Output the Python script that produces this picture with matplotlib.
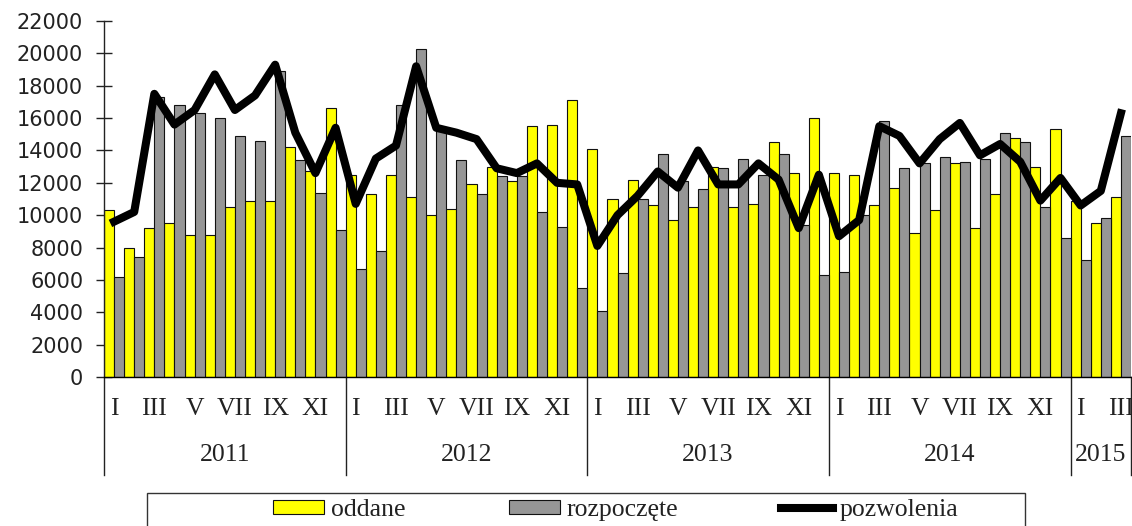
import matplotlib
matplotlib.use("Agg")
import matplotlib.pyplot as plt
import matplotlib.transforms as mtransforms
from matplotlib.patches import Rectangle
import numpy as np

# monthly data, Jan 2011 - Mar 2015
oddane = [10300, 8000, 9200, 9500, 8800, 8800, 10500, 10900, 10900, 14200, 12700, 16600,
          12500, 11300, 12500, 11100, 10000, 10400, 11900, 13000, 12100, 15500, 15600, 17100,
          14100, 11000, 12200, 10600, 9700, 10500, 13000, 10500, 10700, 14500, 12600, 16000,
          12600, 12500, 10600, 11700, 8900, 10300, 13200, 9200, 11300, 14800, 13000, 15300,
          10900, 9500, 11100]
rozpoczete = [6200, 7400, 17300, 16800, 16300, 16000, 14900, 14600, 18900, 13400, 11400, 9100,
              6700, 7800, 16800, 20300, 15200, 13400, 11300, 12400, 12400, 10200, 9300, 5500,
              4100, 6400, 11000, 13800, 12100, 11600, 12900, 13500, 12500, 13800, 9400, 6300,
              6500, 10000, 15800, 12900, 13200, 13600, 13300, 13500, 15100, 14500, 10500, 8600,
              7200, 9800, 14900]
pozwolenia = [9600, 10200, 17500, 15600, 16500, 18700, 16500, 17400, 19300, 15100, 12600, 15400,
              10700, 13500, 14300, 19200, 15400, 15100, 14700, 12900, 12600, 13200, 12000, 11900,
              8100, 10000, 11200, 12700, 11700, 14000, 11900, 11900, 13200, 12200, 9200, 12500,
              8700, 9700, 15500, 14900, 13200, 14700, 15700, 13700, 14400, 13300, 10900, 12300,
              10600, 11500, 16300]
years = ["2011", "2012", "2013", "2014", "2015"]
months_in_year = [12, 12, 12, 12, 3]
month_labels = ["I", "", "III", "", "V", "", "VII", "", "IX", "", "XI", ""]

W, H = 1132, 526
fig = plt.figure(figsize=(W / 100, H / 100), dpi=100)
ax = fig.add_axes([104 / W, 1 - 377 / H, (1131 - 104) / W, (377 - 21) / H])

n = len(oddane)
x = np.arange(n)
serif = "Liberation Serif"

b1 = ax.bar(x, oddane, width=0.5, align="edge", color="#ffff00", edgecolor="#111111",
            linewidth=0.8, label="oddane", zorder=2)
b2 = ax.bar(x + 0.5, rozpoczete, width=0.5, align="edge", color="#969696", edgecolor="#111111",
            linewidth=0.8, label="rozpoczęte", zorder=2)
l1, = ax.plot(x + 0.5, pozwolenia, color="black", lw=5.8, label="pozwolenia", zorder=3)

ax.set_xlim(0, n)
ax.set_ylim(0, 22000)
ax.set_yticks(range(0, 22001, 2000))
ax.tick_params(axis="y", direction="inout", length=12, width=1, pad=9,
               labelsize=15, colors="#222222")
ax.set_xticks([])
for s in ["top", "right", "left"]:
    ax.spines[s].set_visible(False)
ax.spines["bottom"].set_linewidth(1)

# month / year labels and separators
trans = mtransforms.blended_transform_factory(ax.transData, ax.transAxes)
start = 0
for yr, cnt in zip(years, months_in_year):
    for m in range(cnt):
        if month_labels[m]:
            ax.text(start + m + 0.5, -0.09, month_labels[m], transform=trans,
                    ha="center", va="center", family=serif, fontsize=18.5, color="#222222")
    ax.text(start + cnt / 2, -0.22, yr, transform=trans, ha="center", va="center",
            family=serif, fontsize=18.5, color="#222222")
    ax.plot([start, start], [1.0 if start == 0 else 0, -0.275], transform=trans,
            color="#222222", lw=1, clip_on=False)
    start += cnt
ax.plot([start, start], [0, -0.275], transform=trans, color="#222222", lw=1, clip_on=False)

# legend
fig.add_artist(Rectangle((147 / W, -0.05), (1025 - 147) / W, 0.05 + 1 - 493 / H,
                         transform=fig.transFigure, fill=False, edgecolor="#333333", lw=1))
leg = fig.legend([b1, b2, l1], ["oddane", "rozpoczęte", "pozwolenia"],
                 loc="center left", bbox_to_anchor=(273 / W, 1 - 510 / H), ncol=3, frameon=False,
                 borderpad=0, borderaxespad=0, handlelength=2.0, handleheight=0.46,
                 handletextpad=0.27, columnspacing=4.0,
                 prop={"family": serif, "size": 18.5})
for t in leg.get_texts():
    t.set_color("#222222")

fig.savefig("out.png", dpi=100, facecolor="white")
